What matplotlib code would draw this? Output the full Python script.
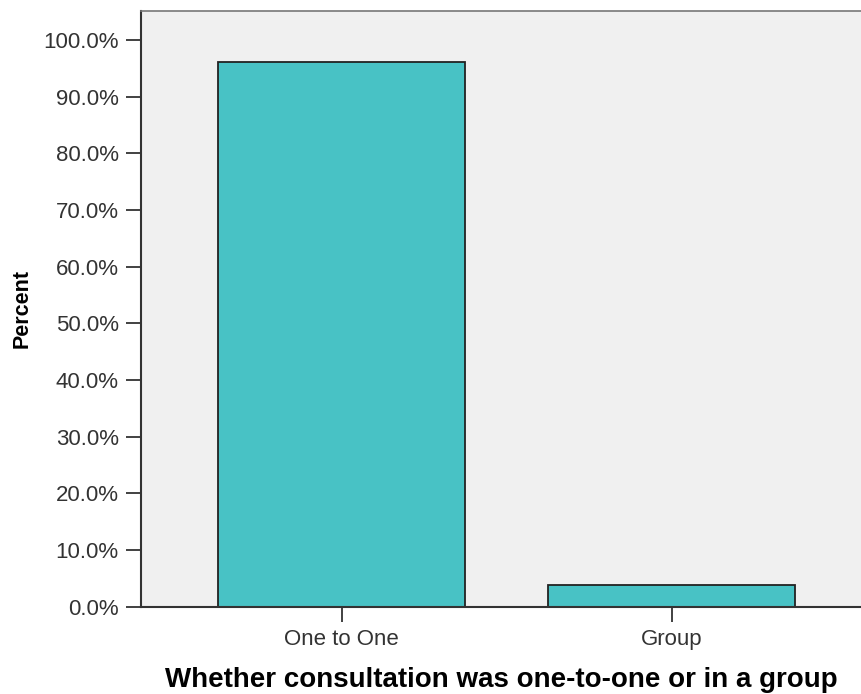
import matplotlib
matplotlib.use("Agg")
import matplotlib.pyplot as plt
from matplotlib.ticker import FuncFormatter

categories = ["One to One", "Group"]
percents = [96.2, 3.8]
yticks = [0, 10, 20, 30, 40, 50, 60, 70, 80, 90, 100]

plt.rcParams['font.family'] = ['Liberation Sans', 'DejaVu Sans']

fig = plt.figure(figsize=(8.61, 6.94), dpi=100)
ax = fig.add_axes([141/861, (694-606.7)/694, 1 - 141/861, (606.7-10.5)/694])
ax.set_facecolor("#F0F0F0")
x = list(range(len(categories)))
ax.bar(x, percents, width=0.748, color="#48C2C5", edgecolor="#222222", linewidth=1.3)
ax.set_xlim(-0.608, 1.574)
ax.set_ylim(0, 105.2)
ax.set_xticks(x)
ax.set_xticklabels(categories)
ax.set_yticks(yticks)
ax.yaxis.set_major_formatter(FuncFormatter(lambda v, p: f"{v:.1f}%"))
ax.tick_params(axis='y', direction='out', length=11, width=1.3, color="#333333", labelsize=16, labelcolor="#333333", pad=5)
ax.tick_params(axis='x', direction='out', length=11, width=1.3, color="#333333", labelsize=16, labelcolor="#333333", pad=5)
for s in ['left', 'bottom']:
    ax.spines[s].set_linewidth(1.5)
    ax.spines[s].set_color("#333333")
ax.spines['top'].set_linewidth(1.2)
ax.spines['top'].set_color("#777777")
ax.spines['right'].set_visible(False)
ax.set_ylabel("Percent", fontsize=15.5, fontweight='bold', labelpad=8)
ax.set_xlabel("Whether consultation was one-to-one or in a group", fontsize=20, fontweight='bold', labelpad=12)
fig.savefig("out.png", dpi=100)
